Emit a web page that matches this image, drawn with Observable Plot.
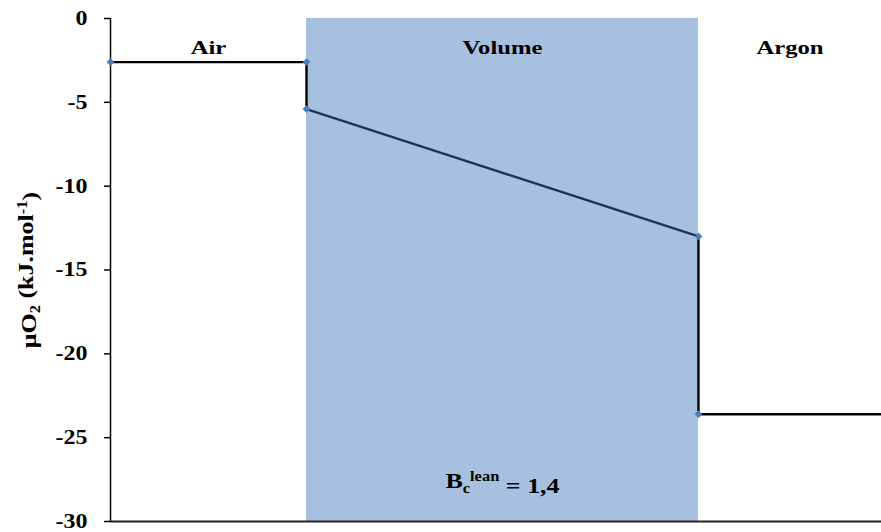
<!DOCTYPE html>
<html>
<head>
<meta charset="utf-8">
<script src="https://cdn.jsdelivr.net/npm/d3@7"></script>
<script src="https://cdn.jsdelivr.net/npm/@observablehq/plot@0.6"></script>
<style>
  html, body { margin: 0; padding: 0; background: #fff; }
  svg, svg text { font-family: "Liberation Serif", "Times New Roman", serif !important; }
</style>
</head>
<body>
<div id="chart"></div>
<script>
// Region boundaries (normalized position across the sample)
const regionNames = ["Air", "Volume", "Argon"];
const regionStart = [0, 0.2542, 0.7626];
const regionEnd = [0.2542, 0.7626, 1];

// Oxygen chemical potential profile (kJ/mol)
const profileX = [0, 0.2542, 0.2542, 0.7626, 0.7626, 1];
const profileMu = [-2.6, -2.6, -5.4, -13.0, -23.6, -23.6];
const markerCount = 5; // points shown with markers

const yTicks = [0, -5, -10, -15, -20, -25, -30];

const regions = regionNames.map((n, i) => ({name: n, x1: regionStart[i], x2: regionEnd[i], xm: (regionStart[i] + regionEnd[i]) / 2}));
const profile = profileX.map((x, i) => ({x, mu: profileMu[i]}));
const segments = profile.slice(1).map((p, i) => ({x1: profile[i].x, y1: profile[i].mu, x2: p.x, y2: p.mu, sloped: i === 2}));

const chart = Plot.plot({
  width: 881,
  height: 532,
  marginLeft: 110,
  marginRight: 0,
  marginTop: 18,
  marginBottom: 11,
  x: {domain: [0, 1], axis: null},
  y: {domain: [-30, 0], ticks: yTicks, tickFormat: d => String(d), label: null},
  marks: [
    Plot.rect([regions[1]], {x1: "x1", x2: "x2", y1: -30, y2: 0, fill: "#a8c0df"}),
    Plot.axisY({ticks: yTicks, tickFormat: d => String(d), tickSize: 6, tickPadding: 17,
      fill: "#000", stroke: "#000", strokeWidth: 1.5, label: null}),
    Plot.ruleX([0], {stroke: "#000", strokeWidth: 1.5}),
    Plot.ruleY([-30], {stroke: "#222", strokeWidth: 2}),
    Plot.link(segments, {x1: "x1", y1: "y1", x2: "x2", y2: "y2",
      stroke: d => d.sloped ? "#1f3352" : "#000", strokeWidth: 2.4}),
    Plot.dot(profile.slice(0, markerCount), {x: "x", y: "mu", symbol: "diamond2", r: 3.5, fill: "#4a7ebb", stroke: "none"}),
    Plot.text(regions, {x: "xm", y: -1.75, text: "name", fill: "#000", className: "region"}),
    Plot.text(["Bc lean = 1,4"], {x: regions[1].xm, y: -27.6, text: d => d, fill: "#000", className: "bclabel"}),
    Plot.text(["μO2 (kJ.mol-1)"], {x: 0, y: -15, text: d => d, rotate: -90, dx: -82, fill: "#000", className: "ylabel"})
  ]
});

document.getElementById("chart").appendChild(chart);

const svg = d3.select(chart);
function stretch(sel, sx) {
  sel.each(function() {
    const t = d3.select(this);
    const tr = t.attr("transform") || "";
    t.attr("transform", tr + ` scale(${sx},1)`);
  });
}

// Tick labels: bold serif, slightly stretched like the original
const tickTexts = svg.selectAll('g[aria-label="y-axis tick label"] text')
  .style("font-size", "20px").style("font-weight", "bold");
stretch(tickTexts, 1.2);

// Region labels
const regionTexts = svg.selectAll(".region text")
  .style("font-size", "19px").style("font-weight", "bold");
stretch(regionTexts, 1.3);

// Rich text: subscripts / superscripts
const bc = svg.selectAll(".bclabel text").style("font-size", "22px").style("font-weight", "bold");
bc.each(function() {
  const t = d3.select(this);
  t.text(null);
  t.append("tspan").text("B");
  t.append("tspan").attr("dy", "0.3em").style("font-size", "14px").text("c");
  t.append("tspan").attr("dy", "-0.85em").style("font-size", "14px").text("lean");
  t.append("tspan").attr("dy", "0.55em").text(" = 1,4");
});
stretch(bc, 1.18);

const yl = svg.selectAll(".ylabel text").style("font-size", "22px").style("font-weight", "bold");
yl.each(function() {
  const t = d3.select(this);
  t.text(null);
  t.append("tspan").text("μO");
  t.append("tspan").attr("dy", "0.3em").style("font-size", "14px").text("2");
  t.append("tspan").attr("dy", "-0.3em").text(" (kJ.mol");
  t.append("tspan").attr("dy", "-0.45em").style("font-size", "14px").text("-1");
  t.append("tspan").attr("dy", "0.45em").text(")");
});
stretch(yl, 1.18);
</script>
</body>
</html>
